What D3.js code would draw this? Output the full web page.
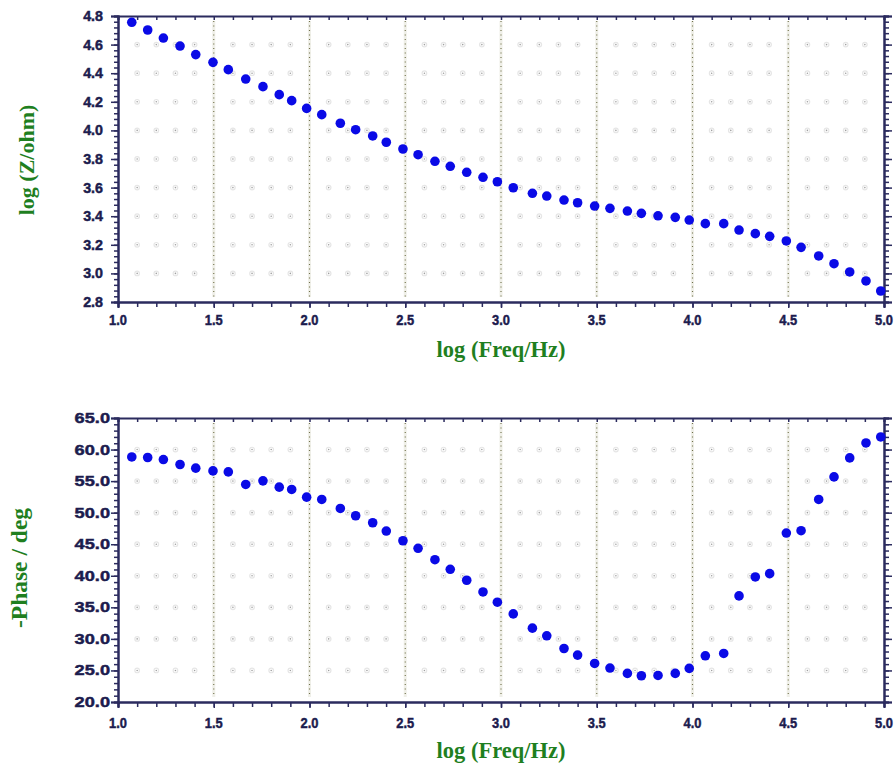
<!DOCTYPE html>
<html>
<head>
<meta charset="utf-8">
<script src="https://cdn.jsdelivr.net/npm/d3@7"></script>
<style>
  html, body { margin: 0; padding: 0; background: #fff; }
  svg { display: block; }
  .tick-label { font-family: "Liberation Sans", Arial, sans-serif; font-weight: bold; fill: #1c1c4e; stroke: #1c1c4e; stroke-width: 0.45; }
  .axis-title { font-family: "Liberation Serif", "Times New Roman", serif; font-weight: bold; fill: #1f7f1f; }
</style>
</head>
<body>
<script>
// ---------- data ----------
const logFreq = [1.072, 1.155, 1.237, 1.324, 1.406, 1.496, 1.576, 1.667, 1.757, 1.842, 1.907,
  1.985, 2.064, 2.161, 2.241, 2.330, 2.401, 2.488, 2.567, 2.655, 2.735, 2.821, 2.906, 2.981,
  3.064, 3.164, 3.239, 3.329, 3.400, 3.489, 3.569, 3.660, 3.733, 3.820, 3.910, 3.983,
  4.067, 4.163, 4.243, 4.328, 4.403, 4.490, 4.567, 4.659, 4.739, 4.821, 4.906, 4.983];
const logZ = [4.756, 4.702, 4.646, 4.590, 4.530, 4.476, 4.425, 4.359, 4.306, 4.250, 4.208,
  4.154, 4.110, 4.050, 4.005, 3.961, 3.917, 3.870, 3.830, 3.784, 3.749, 3.707, 3.672, 3.641,
  3.599, 3.560, 3.541, 3.513, 3.494, 3.471, 3.455, 3.436, 3.420, 3.403, 3.392, 3.373,
  3.348, 3.348, 3.303, 3.278, 3.259, 3.227, 3.182, 3.122, 3.068, 3.010, 2.947, 2.877];
const phase = [58.83, 58.74, 58.42, 57.63, 57.05, 56.62, 56.46, 54.47, 55.04, 54.04, 53.68,
  52.46, 52.09, 50.67, 49.51, 48.40, 47.09, 45.55, 44.35, 42.55, 41.03, 39.29, 37.44, 35.81,
  33.96, 31.70, 30.49, 28.48, 27.43, 26.11, 25.38, 24.53, 24.16, 24.21, 24.53, 25.32,
  27.32, 27.69, 36.81, 39.81, 40.34, 46.77, 47.14, 52.09, 55.67, 58.68, 61.05, 62.00];

const xTicks = [1.0, 1.5, 2.0, 2.5, 3.0, 3.5, 4.0, 4.5, 5.0];
const zTicks = [2.8, 3.0, 3.2, 3.4, 3.6, 3.8, 4.0, 4.2, 4.4, 4.6, 4.8];
const phaseTicks = [20, 25, 30, 35, 40, 45, 50, 55, 60, 65];
const xTitle = "log (Freq/Hz)";
const zTitle = "log (Z/ohm)";
const phaseTitle = "-Phase / deg";

// ---------- layout ----------
const W = 896, H = 767;
const svg = d3.select("body").append("svg").attr("width", W).attr("height", H);
svg.append("rect").attr("width", W).attr("height", H).attr("fill", "#fff");

const AX = "#2b2b5e";
const x = d3.scaleLinear().domain([1, 5]).range([118, 884]);

function panel(cfg) {
  const { y, yTicks, yMinorStep, yFmt, xs, ys, title, titleX, titleY, titleSize, xTitleY, xLabelY, yLabelX, yLabelScale } = cfg;
  const g = svg.append("g");
  const [yb, yt] = y.range();
  const xMinor = d3.range(10, 51).map(d => d / 10);
  const yMinor = d3.range(Math.round(y.domain()[0] / yMinorStep), Math.round(y.domain()[1] / yMinorStep) + 1).map(d => +(d * yMinorStep).toFixed(4));

  // faint grid dots at major y rows and minor x columns
  const dotsG = g.append("g");
  yTicks.slice(1, -1).forEach(v => {
    xMinor.slice(1, -1).forEach(u => {
      if (Math.abs(u * 2 - Math.round(u * 2)) < 1e-6) return;
      dotsG.append("circle").attr("cx", x(u)).attr("cy", y(v)).attr("r", 2.3)
        .attr("fill", "none").attr("stroke", "#e6e6e6").attr("stroke-width", 1.2);
      dotsG.append("circle").attr("cx", x(u)).attr("cy", y(v)).attr("r", 0.8).attr("fill", "#a0a0a0");
    });
  });
  // vertical dotted lines at major x
  xTicks.slice(1, -1).forEach(v => {
    g.append("line").attr("x1", x(v)).attr("x2", x(v)).attr("y1", yt + 5).attr("y2", yb - 5)
      .attr("stroke", "#efefe8").attr("stroke-width", 3);
    g.append("line").attr("x1", x(v)).attr("x2", x(v)).attr("y1", yt + 5).attr("y2", yb - 5)
      .attr("stroke", "#6e6e48").attr("stroke-width", 1.1).attr("stroke-dasharray", "1.1,3.4");
  });

  // axes
  const bottomMinor = d3.axisBottom(x).tickValues(xMinor).tickSize(5).tickFormat("");
  const bottomMajor = d3.axisBottom(x).tickValues(xTicks).tickSize(6).tickFormat("");
  const topMinor = d3.axisBottom(x).tickValues(xMinor).tickSize(4).tickFormat("");
  const leftMinor = d3.axisLeft(y).tickValues(yMinor).tickSize(4).tickFormat("");
  const leftMajor = d3.axisLeft(y).tickValues(yTicks).tickSize(7).tickFormat("");
  const rightMinor = d3.axisRight(y).tickValues(yMinor).tickSize(5).tickFormat("");
  const rightMajor = d3.axisRight(y).tickValues(yTicks).tickSize(8).tickFormat("");

  function style(sel) {
    sel.selectAll("path").attr("stroke", AX).attr("stroke-width", 2);
    sel.selectAll("line").attr("stroke", AX).attr("stroke-width", 1.5);
  }
  style(g.append("g").attr("transform", `translate(0,${yb})`).call(bottomMinor));
  style(g.append("g").attr("transform", `translate(0,${yb})`).call(bottomMajor));
  style(g.append("g").attr("transform", `translate(0,${yt})`).call(topMinor));
  style(g.append("g").attr("transform", `translate(118,0)`).call(leftMinor));
  style(g.append("g").attr("transform", `translate(118,0)`).call(leftMajor));
  style(g.append("g").attr("transform", `translate(884,0)`).call(rightMinor));
  style(g.append("g").attr("transform", `translate(884,0)`).call(rightMajor));

  // tick labels
  xTicks.forEach(v => {
    g.append("text").attr("class", "tick-label")
      .attr("transform", `translate(${x(v)},${xLabelY}) scale(0.92,1)`)
      .attr("text-anchor", "middle").attr("font-size", 14).text(v.toFixed(1));
  });
  yTicks.forEach(v => {
    g.append("text").attr("class", "tick-label")
      .attr("transform", `translate(${yLabelX},${y(v)}) scale(${yLabelScale},1)`)
      .attr("dy", "0.36em").attr("text-anchor", "end").attr("font-size", 14).text(yFmt(v));
  });

  // axis titles
  g.append("text").attr("class", "axis-title").attr("x", 501).attr("y", xTitleY)
    .attr("text-anchor", "middle").attr("font-size", 22.5).text(xTitle);
  g.append("text").attr("class", "axis-title")
    .attr("transform", `translate(${titleX},${titleY}) rotate(-90)`)
    .attr("text-anchor", "middle").attr("font-size", titleSize).text(title);

  // data points
  g.append("g").selectAll("circle").data(xs.map((d, i) => [d, ys[i]])).join("circle")
    .attr("cx", d => x(d[0])).attr("cy", d => y(d[1])).attr("r", 4.8).attr("fill", "#0a0ae6");
}

panel({
  y: d3.scaleLinear().domain([2.8, 4.8]).range([302, 16]),
  yTicks: zTicks, yMinorStep: 0.04, yFmt: d => d.toFixed(1),
  xs: logFreq, ys: logZ, title: zTitle, titleX: 34, titleY: 160, titleSize: 22,
  xTitleY: 357, xLabelY: 325, yLabelX: 103, yLabelScale: 1.02
});
panel({
  y: d3.scaleLinear().domain([20, 65]).range([702, 418]),
  yTicks: phaseTicks, yMinorStep: 1, yFmt: d => d.toFixed(1),
  xs: logFreq, ys: phase, title: phaseTitle, titleX: 27, titleY: 568, titleSize: 23.5,
  xTitleY: 758, xLabelY: 728, yLabelX: 110, yLabelScale: 1.3
});
</script>
</body>
</html>
